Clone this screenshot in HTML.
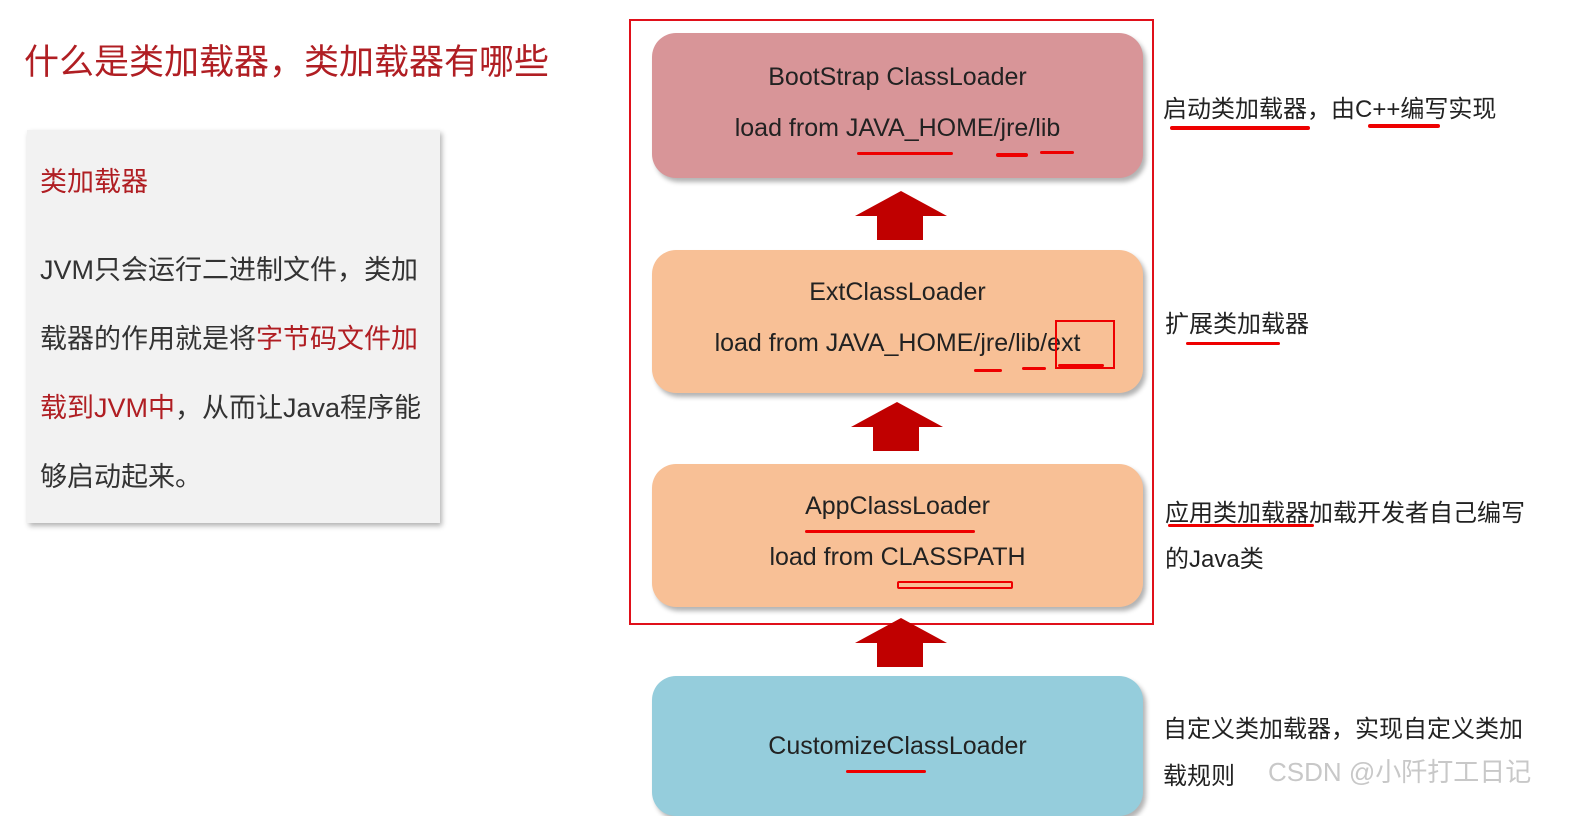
<!DOCTYPE html>
<html><head><meta charset="utf-8"><style>
body{margin:0;width:1571px;height:797px;background:#fff;position:relative;overflow:hidden;font-family:"Liberation Sans","Noto Sans CJK SC",sans-serif;}
.a{position:absolute;white-space:nowrap}
.box{position:absolute;left:652px;width:491px;border-radius:24px;box-shadow:3px 4px 5px rgba(0,0,0,.3);color:#222;font-size:25px;text-align:center}
.u{position:absolute;background:#e00;height:3px;border-radius:2px}
.arr{position:absolute;left:855px;width:92px;height:50px}
.r{font-size:24px;color:#222}
</style></head><body>
<div class="a" style="left:24px;top:34px;font-size:35px;color:#b01e23">什么是类加载器，类加载器有哪些</div>
<div class="a" style="left:27px;top:130px;width:413px;height:393px;background:#f2f2f2;box-shadow:2px 3px 5px rgba(0,0,0,.3)"></div>
<div class="a" style="left:40px;top:160px;font-size:27px;color:#b01e23">类加载器</div>
<div class="a" style="left:40px;top:236px;font-size:27px;color:#333;line-height:69px;white-space:normal;width:385px">JVM只会运行二进制文件，类加载器的作用就是将<span style="color:#b01e23">字节码文件加载到JVM中</span>，从而让Java程序能够启动起来。</div>

<div class="a" style="left:629px;top:19px;width:521px;height:602px;border:2px solid #e0101a"></div>
<div class="box" style="top:33px;height:145px;background:#d89598"><div style="margin-top:30px">BootStrap ClassLoader</div><div style="margin-top:22px">load from JAVA_HOME/jre/lib</div></div>
<div class="box" style="top:250px;height:143px;background:#f8c096"><div style="margin-top:28px">ExtClassLoader</div><div style="margin-top:22px">load from JAVA_HOME/jre/lib/ext</div></div>
<div class="box" style="top:464px;height:143px;background:#f8c096"><div style="margin-top:28px">AppClassLoader</div><div style="margin-top:22px">load from CLASSPATH</div></div>
<div class="box" style="top:676px;height:140px;background:#95cddc"><div style="margin-top:56px">CustomizeClassLoader</div></div>

<svg class="arr" style="top:191px" viewBox="0 0 92 50"><polygon points="46,0 92,25 68,25 68,49 22,49 22,25 0,25" fill="#c00000"/></svg>
<svg class="arr" style="top:402px;left:851px" viewBox="0 0 92 50"><polygon points="46,0 92,25 68,25 68,49 22,49 22,25 0,25" fill="#c00000"/></svg>
<svg class="arr" style="top:618px" viewBox="0 0 92 50"><polygon points="46,0 92,25 68,25 68,49 22,49 22,25 0,25" fill="#c00000"/></svg>

<div class="u" style="left:857px;top:152px;width:96px"></div>
<div class="u" style="left:996px;top:153px;width:32px;height:4px"></div>
<div class="u" style="left:1040px;top:151px;width:34px"></div>
<div class="u" style="left:974px;top:369px;width:28px"></div>
<div class="u" style="left:1022px;top:367px;width:24px"></div>
<div class="a" style="left:1055px;top:320px;width:56px;height:45px;border:2px solid #e00"></div>
<div class="u" style="left:1058px;top:364px;width:46px"></div>
<div class="u" style="left:805px;top:530px;width:170px"></div>
<div class="a" style="left:897px;top:581px;width:112px;height:4px;border:2px solid #e00;border-radius:2px"></div>
<div class="u" style="left:846px;top:770px;width:80px"></div>

<div class="a r" style="left:1163px;top:89px">启动类加载器，由C++编写实现</div>
<div class="u" style="left:1170px;top:126px;width:140px;height:4px"></div>
<div class="u" style="left:1368px;top:124px;width:72px;height:4px"></div>
<div class="a r" style="left:1165px;top:304px">扩展类加载器</div>
<div class="u" style="left:1186px;top:342px;width:94px"></div>
<div class="a r" style="left:1165px;top:493px">应用类加载器加载开发者自己编写</div>
<div class="u" style="left:1168px;top:524px;width:146px"></div>
<div class="a r" style="left:1165px;top:539px">的Java类</div>
<div class="a r" style="left:1163px;top:709px">自定义类加载器，实现自定义类加</div>
<div class="a r" style="left:1163px;top:756px">载规则</div>
<div class="a" style="left:1268px;top:752px;font-size:26px;color:#c8c8c8">CSDN @小阡打工日记</div>
</body></html>
